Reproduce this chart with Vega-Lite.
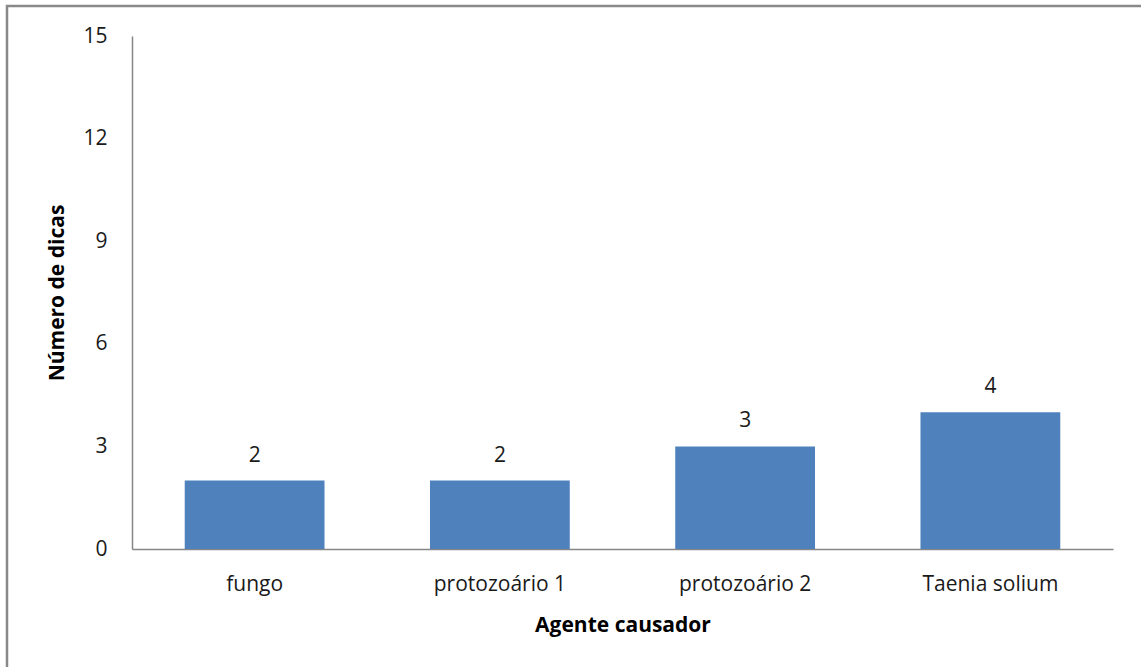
{
  "$schema": "https://vega.github.io/schema/vega-lite/v6.json",
  "width": 1150,
  "height": 670,
  "padding": {"left": 7, "top": 6, "right": 0, "bottom": 0},
  "autosize": {"type": "none"},
  "background": "white",
  "config": {
    "view": {"stroke": "#898989", "strokeWidth": 2.5},
    "font": "Open Sans",
    "axis": {"labelFont": "Open Sans", "titleFont": "Open Sans", "labelColor": "#1a1a1a", "titleColor": "#000000"}
  },
  "data": {
    "values": [
      {"agente": "fungo", "dicas": 2},
      {"agente": "protozoário 1", "dicas": 2},
      {"agente": "protozoário 2", "dicas": 3},
      {"agente": "Taenia solium", "dicas": 4}
    ]
  },
  "layer": [
    {
      "mark": {"type": "bar", "color": "#4F81BD"},
      "encoding": {
        "x": {
          "field": "agente", "type": "nominal", "sort": null,
          "scale": {"range": [125, 1106], "paddingInner": 0.43, "paddingOuter": 0.215},
          "axis": {
            "title": "Agente causador", "offset": -127, "labelAngle": 0,
            "domainColor": "#868686", "domainWidth": 1.5, "ticks": false,
            "labelFontSize": 21, "labelPadding": 24,
            "titleFontSize": 21, "titleFontWeight": "bold", "titlePadding": 20
          }
        },
        "y": {
          "field": "dicas", "type": "quantitative",
          "scale": {"domain": [0, 15], "range": [543, 30], "nice": false},
          "axis": {
            "title": "Número de dicas", "offset": -125, "values": [0, 3, 6, 9, 12, 15],
            "grid": false, "domainColor": "#868686", "domainWidth": 1.5, "ticks": false,
            "labelFontSize": 21, "labelPadding": 25,
            "titleFontSize": 21, "titleFontWeight": "bold", "titlePadding": 15
          }
        }
      }
    },
    {
      "mark": {"type": "text", "baseline": "alphabetic", "dy": -19, "fontSize": 21, "font": "Open Sans", "color": "#1a1a1a"},
      "encoding": {
        "x": {"field": "agente", "type": "nominal", "sort": null},
        "y": {"field": "dicas", "type": "quantitative"},
        "text": {"field": "dicas", "type": "quantitative"}
      }
    }
  ]
}
